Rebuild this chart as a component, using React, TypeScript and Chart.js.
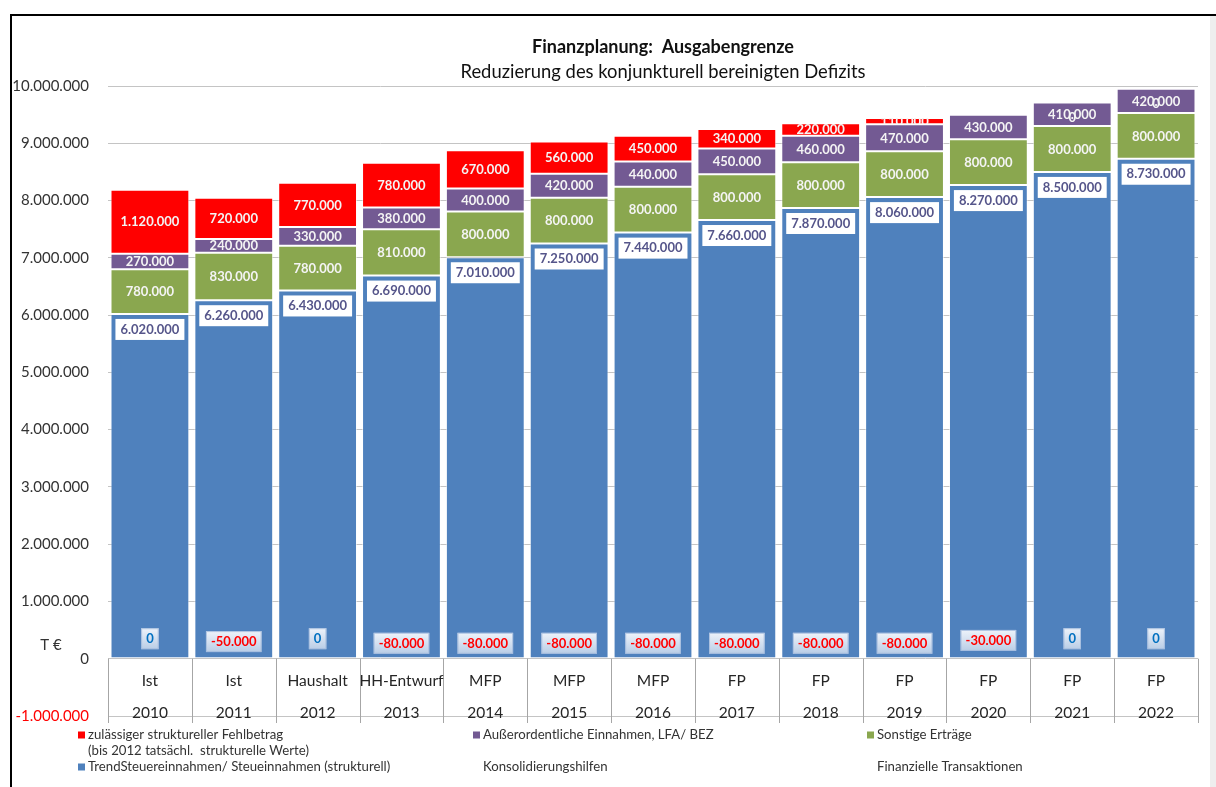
import { useEffect, useRef } from "react";
import { Chart, registerables } from "chart.js";

Chart.register(...registerables);

const titleText = "Finanzplanung:  Ausgabengrenze";
const subtitleText = "Reduzierung des konjunkturell bereinigten Defizits";

const planTypes = ["Ist", "Ist", "Haushalt", "HH-Entwurf", "MFP", "MFP", "MFP", "FP", "FP", "FP", "FP", "FP", "FP"];
const years = ["2010", "2011", "2012", "2013", "2014", "2015", "2016", "2017", "2018", "2019", "2020", "2021", "2022"];

const trendSteuer = [6020000, 6260000, 6430000, 6690000, 7010000, 7250000, 7440000, 7660000, 7870000, 8060000, 8270000, 8500000, 8730000];
const sonstigeErtraege = [780000, 830000, 780000, 810000, 800000, 800000, 800000, 800000, 800000, 800000, 800000, 800000, 800000];
const ausserordentlich = [270000, 240000, 330000, 380000, 400000, 420000, 440000, 450000, 460000, 470000, 430000, 410000, 420000];
const fehlbetrag: (number | null)[] = [1120000, 720000, 770000, 780000, 670000, 560000, 450000, 340000, 220000, 110000, null, 0, 0];
const finTransaktionen = [0, -50000, 0, -80000, -80000, -80000, -80000, -80000, -80000, -80000, -30000, 0, 0];

const yMin = -1000000;
const yMax = 10000000;
const yStep = 1000000;

const labelFehlbetrag = ["zulässiger struktureller Fehlbetrag", "(bis 2012 tatsächl.  strukturelle Werte)"];
const labelTrend = "TrendSteuereinnahmen/ Steueinnahmen (strukturell)";
const labelAusser = "Außerordentliche Einnahmen, LFA/ BEZ";
const labelSonstige = "Sonstige Erträge";
const labelKonsolidierung = "Konsolidierungshilfen";
const labelFinanz = "Finanzielle Transaktionen";
const unitLabel = "T €";

const colBlue = "#4F81BD";
const colGreen = "#8AA74F";
const colPurple = "#735A93";
const colRed = "#FF0000";

const FONT = "Lato, 'Open Sans', sans-serif";

function fmt(n: number): string {
  const s = String(Math.abs(Math.round(n))).replace(/\B(?=(\d{3})+(?!\d))/g, ".");
  return (n < 0 ? "-" : "") + s;
}

const customPlugin = {
  id: "customDraw",
  beforeDraw(chart: any) {
    const ctx = chart.ctx;
    const w = chart.width;
    const h = chart.height;
    ctx.save();
    ctx.fillStyle = "#ffffff";
    ctx.fillRect(0, 0, w, h);
    ctx.fillStyle = "#EEEEEE";
    ctx.fillRect(1210, 16, 6, h - 16);
    ctx.strokeStyle = "#000000";
    ctx.lineWidth = 2;
    ctx.beginPath();
    ctx.moveTo(11, h);
    ctx.lineTo(11, 15);
    ctx.lineTo(w, 15);
    ctx.stroke();
    ctx.restore();
  },
  afterDatasetsDraw(chart: any) {
    const ctx = chart.ctx;
    const yScale = chart.scales.y;
    const xScale = chart.scales.x;
    ctx.save();
    ctx.textAlign = "center";
    ctx.textBaseline = "middle";
    ctx.font = `bold 13px ${FONT}`;

    chart.data.datasets.forEach((ds: any, di: number) => {
      const meta = chart.getDatasetMeta(di);
      meta.data.forEach((el: any, i: number) => {
        const v = ds.data[i];
        if (v === null || v === undefined) return;
        const x = el.x;
        const top = Math.min(el.y, el.base);
        const bottom = Math.max(el.y, el.base);
        const bw = el.width;
        const text = fmt(v);
        if (di === 0) {
          const tw = ctx.measureText(text).width;
          const cy = top + 15;
          ctx.fillStyle = "#ffffff";
          ctx.fillRect(x - tw / 2 - 5, cy - 10, tw + 10, 21);
          ctx.fillStyle = "#55558A";
          ctx.fillText(text, x, cy + 0.5);
        } else if (v === 0) {
          ctx.fillStyle = "#F4F4F4";
          ctx.fillText(text, x, top + 15);
        } else {
          ctx.save();
          ctx.beginPath();
          ctx.rect(x - bw / 2, top, bw, bottom - top);
          ctx.clip();
          ctx.fillStyle = "#F4F4F4";
          ctx.fillText(text, x, (top + bottom) / 2 + 0.5);
          ctx.restore();
        }
      });
    });

    // Finanzielle Transaktionen labels
    finTransaktionen.forEach((v, i) => {
      const x = xScale.getPixelForValue(i);
      const cy = yScale.getPixelForValue(v) - 20;
      const text = fmt(v);
      const tw = ctx.measureText(text).width;
      const bx = x - tw / 2 - 5;
      const by = cy - 10.5;
      const bwid = tw + 10;
      const bh = 21;
      const g = ctx.createLinearGradient(0, by, 0, by + bh);
      g.addColorStop(0, "#EEF3FA");
      g.addColorStop(1, "#B9CDE6");
      ctx.fillStyle = g;
      ctx.fillRect(bx, by, bwid, bh);
      ctx.strokeStyle = "rgba(160,185,220,0.8)";
      ctx.lineWidth = 1;
      ctx.strokeRect(bx + 0.5, by + 0.5, bwid - 1, bh - 1);
      ctx.fillStyle = v < 0 ? "#FF0000" : "#0070C0";
      ctx.fillText(text, x, cy + 0.5);
    });
    ctx.restore();
  },
  afterDraw(chart: any) {
    const ctx = chart.ctx;
    const area = chart.chartArea;
    const yScale = chart.scales.y;
    const xScale = chart.scales.x;
    const y0 = yScale.getPixelForValue(0);
    const yb = yScale.getPixelForValue(yMin);
    ctx.save();

    // title
    ctx.textAlign = "center";
    ctx.textBaseline = "middle";
    ctx.fillStyle = "#111111";
    ctx.font = `bold 18px ${FONT}`;
    ctx.fillText(titleText, 663, 47);
    ctx.font = `18.4px ${FONT}`;
    ctx.fillText(subtitleText, 663, 72);

    // unit label
    ctx.font = `15px ${FONT}`;
    ctx.fillStyle = "#333333";
    ctx.fillText(unitLabel, 51, 645);

    // category separators
    const n = years.length;
    const cw = (area.right - area.left) / n;
    ctx.strokeStyle = "#A6A6A6";
    ctx.lineWidth = 1;
    for (let i = 0; i <= n; i++) {
      const x = Math.round(area.left + i * cw) + 0.5;
      ctx.beginPath();
      ctx.moveTo(x, y0);
      ctx.lineTo(x, yb + 7);
      ctx.stroke();
    }

    // category labels
    ctx.font = `15.5px ${FONT}`;
    ctx.fillStyle = "#262626";
    years.forEach((yr, i) => {
      const x = xScale.getPixelForValue(i);
      ctx.fillText(planTypes[i], x, y0 + 22);
      ctx.fillText(yr, x, yb - 3);
    });

    // legend
    ctx.textAlign = "left";
    ctx.font = `13.2px ${FONT}`;
    ctx.fillStyle = "#333333";
    const rows = [735, 751, 767];
    const sq = (x: number, y: number, c: string) => {
      ctx.fillStyle = c;
      ctx.fillRect(x, y - 3.5, 7, 7);
      ctx.fillStyle = "#333333";
    };
    sq(78, rows[0], colRed);
    ctx.fillText(labelFehlbetrag[0], 88, rows[0]);
    ctx.fillText(labelFehlbetrag[1], 88, rows[1]);
    sq(78, rows[2], colBlue);
    ctx.fillText(labelTrend, 88, rows[2]);
    sq(473, rows[0], colPurple);
    ctx.fillText(labelAusser, 483, rows[0]);
    ctx.fillText(labelKonsolidierung, 483, rows[2]);
    sq(867, rows[0], colGreen);
    ctx.fillText(labelSonstige, 877, rows[0]);
    ctx.fillText(labelFinanz, 877, rows[2]);

    ctx.restore();
  },
};

export default function App() {
  const canvasRef = useRef<HTMLCanvasElement | null>(null);

  useEffect(() => {
    if (!canvasRef.current) return;
    const barOpts = {
      barPercentage: 0.94,
      categoryPercentage: 1.0,
      borderWidth: 1,
      borderColor: "rgba(255,255,255,0.55)",
      borderSkipped: false as const,
      stack: "s",
    };
    const chart = new Chart(canvasRef.current, {
      type: "bar",
      data: {
        labels: years,
        datasets: [
          { label: labelTrend, data: trendSteuer, backgroundColor: colBlue, ...barOpts },
          { label: labelSonstige, data: sonstigeErtraege, backgroundColor: colGreen, ...barOpts },
          { label: labelAusser, data: ausserordentlich, backgroundColor: colPurple, ...barOpts },
          { label: labelFehlbetrag[0], data: fehlbetrag, backgroundColor: colRed, ...barOpts },
        ],
      },
      options: {
        responsive: false,
        animation: false,
        devicePixelRatio: 1,
        layout: { padding: { left: 10, right: 18, top: 86, bottom: 71 } },
        plugins: {
          legend: { display: false },
          title: { display: false },
          tooltip: { enabled: false },
        },
        scales: {
          x: {
            display: false,
            stacked: true,
            offset: true,
          },
          y: {
            stacked: true,
            min: yMin,
            max: yMax,
            border: { display: false },
            grid: { color: "#C4C4C4", lineWidth: 1, drawTicks: false },
            ticks: {
              stepSize: yStep,
              padding: 19,
              font: { family: FONT, size: 15 },
              color: (c: any) => (c.tick && c.tick.value < 0 ? "#FF0000" : "#333333"),
              callback: (v: any) => fmt(Number(v)),
            },
            afterFit: (scale: any) => {
              scale.width = 98;
            },
          },
        },
      },
      plugins: [customPlugin],
    });
    const fonts: any = (document as any).fonts;
    if (fonts && fonts.load) {
      Promise.all([fonts.load(`15px Lato`), fonts.load(`bold 13px Lato`)]).then(() => chart.update()).catch(() => {});
    }
    return () => chart.destroy();
  }, []);

  return (
    <div style={{ position: "fixed", left: 0, top: 0, width: 1216, height: 787, background: "#fff" }}>
      <canvas ref={canvasRef} width={1216} height={787} style={{ display: "block" }} />
    </div>
  );
}
